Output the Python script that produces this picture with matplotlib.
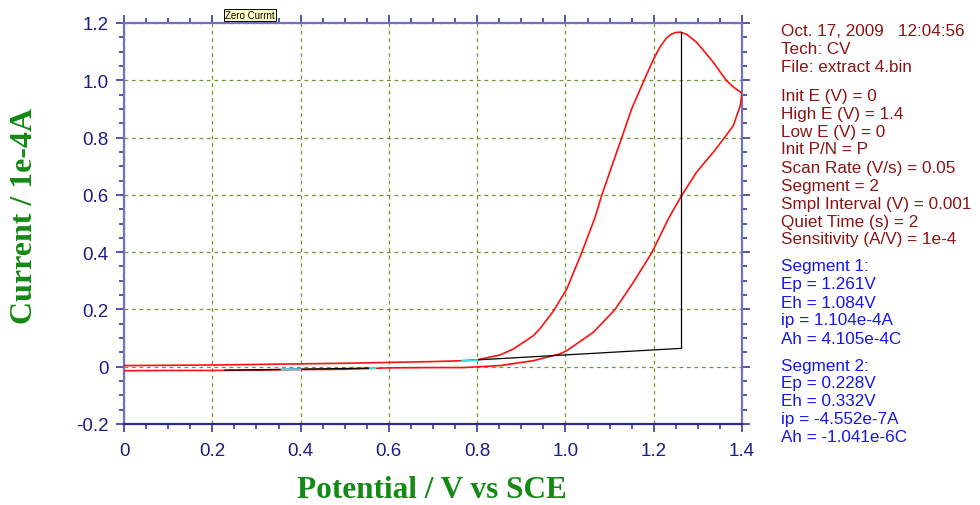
import matplotlib
matplotlib.use("Agg")
import matplotlib.pyplot as plt
from matplotlib.ticker import MultipleLocator

# Segment 1: anodic sweep 0 -> 1.4 V (current in 1e-4 A)
fwd_e = [0.00, 0.10, 0.20, 0.30, 0.40, 0.50, 0.60, 0.70, 0.77, 0.80, 0.852, 0.882,
         0.927, 0.942, 0.973, 1.003, 1.037, 1.067, 1.082, 1.105, 1.127, 1.150, 1.177,
         1.200, 1.215, 1.229, 1.240, 1.250, 1.261, 1.275, 1.297, 1.315, 1.335, 1.350,
         1.365, 1.380, 1.390, 1.400]
fwd_i = [0.004, 0.005, 0.006, 0.008, 0.010, 0.012, 0.015, 0.018, 0.021, 0.024, 0.041, 0.062,
         0.108, 0.132, 0.195, 0.271, 0.399, 0.521, 0.597, 0.700, 0.797, 0.900, 0.996,
         1.075, 1.118, 1.148, 1.161, 1.167, 1.168, 1.160, 1.133, 1.100, 1.063, 1.030,
         0.999, 0.977, 0.966, 0.955]

# Segment 2: reverse sweep 1.4 -> 0 V
rev_e = [1.400, 1.396, 1.380, 1.358, 1.335, 1.297, 1.263, 1.233, 1.196, 1.154, 1.112,
         1.063, 1.003, 0.988, 0.927, 0.852, 0.769, 0.70, 0.60, 0.56, 0.50, 0.40, 0.30,
         0.20, 0.10, 0.00]
rev_i = [0.955, 0.911, 0.841, 0.795, 0.749, 0.679, 0.597, 0.516, 0.399, 0.295, 0.199,
         0.120, 0.056, 0.045, 0.021, 0.004, -0.003, -0.003, -0.004, -0.006, -0.009, -0.010,
         -0.012, -0.013, -0.013, -0.014]

# peak baselines and peak markers
seg1_base_e = [0.78, 1.261]
seg1_base_i = [0.022, 0.064]
seg1_peak_e = [1.261, 1.261]
seg1_peak_i = [0.064, 1.168]
seg2_base_e = [0.229, 0.557]
seg2_base_i = [-0.012, -0.005]
# half-peak markers
eh_marks = [([0.766, 0.800], [0.021, 0.023]),
            ([0.357, 0.400], [-0.010, -0.009]),
            ([0.557, 0.569], [-0.006, -0.006])]

x_ticks = [0, 0.2, 0.4, 0.6, 0.8, 1.0, 1.2, 1.4]
x_labels = ["0", "0.2", "0.4", "0.6", "0.8", "1.0", "1.2", "1.4"]
y_ticks = [-0.2, 0, 0.2, 0.4, 0.6, 0.8, 1.0, 1.2]
y_labels = ["-0.2", "0", "0.2", "0.4", "0.6", "0.8", "1.0", "1.2"]

params = [
    "Oct. 17, 2009   12:04:56",
    "Tech: CV",
    "File: extract 4.bin",
    None,
    "Init E (V) = 0",
    "High E (V) = 1.4",
    "Low E (V) = 0",
    "Init P/N = P",
    "Scan Rate (V/s) = 0.05",
    "Segment = 2",
    "Smpl Interval (V) = 0.001",
    "Quiet Time (s) = 2",
    "Sensitivity (A/V) = 1e-4",
]
results = [
    "Segment 1:",
    "Ep = 1.261V",
    "Eh = 1.084V",
    "ip = 1.104e-4A",
    "Ah = 4.105e-4C",
    None,
    "Segment 2:",
    "Ep = 0.228V",
    "Eh = 0.332V",
    "ip = -4.552e-7A",
    "Ah = -1.041e-6C",
]

W, H = 980, 506
fig = plt.figure(figsize=(W / 100, H / 100), dpi=100)
ax = fig.add_axes([124 / W, 1 - 425 / H, 618 / W, 401 / H])

navy = "#1c1c84"
green = "#138a13"
grid_c = "#6b9a2a"

ax.plot(fwd_e, fwd_i, color="#ff1010", lw=1.2, zorder=3)
ax.plot(rev_e, rev_i, color="#ff1010", lw=1.2, zorder=3)
ax.plot(seg1_base_e, seg1_base_i, color="black", lw=0.9, zorder=4)
ax.plot(seg1_peak_e, seg1_peak_i, color="black", lw=0.9, zorder=4)
ax.plot(seg2_base_e, seg2_base_i, color="black", lw=0.9, zorder=4)
for xs, ys in eh_marks:
    ax.plot(xs, ys, color="#33e0e8", lw=1.4, zorder=5)

ax.set_xlim(0, 1.4)
ax.set_ylim(-0.2, 1.2)
ax.set_xticks(x_ticks)
ax.set_xticklabels(x_labels)
ax.set_yticks(y_ticks)
ax.set_yticklabels(y_labels)
ax.xaxis.set_minor_locator(MultipleLocator(0.05))
ax.yaxis.set_minor_locator(MultipleLocator(0.05))

ax.grid(True, which="major", color=grid_c, linestyle=(0, (3, 3)), linewidth=0.9)

for side, col in [("left", "#7272c4"), ("right", "#7272c4"), ("top", "#7272c4"), ("bottom", "#2a2a8a")]:
    ax.spines[side].set_color(col)
    ax.spines[side].set_linewidth(1.6)
ax.tick_params(which="both", direction="out", top=True, right=True, colors="#3a3a9a",
               labelcolor=navy, labelsize=13.5, width=1.2)
ax.tick_params(which="major", length=6, pad=5)
ax.tick_params(which="minor", length=3.5)
ax.tick_params(axis="x", pad=7)
for lbl in ax.get_xticklabels() + ax.get_yticklabels():
    lbl.set_family(["Liberation Sans", "DejaVu Sans"])

fig.text(432 / W, 1 - 491 / H, "Potential / V vs SCE", family="Liberation Serif", weight="bold",
         fontsize=22.5, color=green, ha="center", va="center")
fig.text(25 / W, 1 - 216 / H, "Current / 1e-4A", family="Liberation Serif", weight="bold",
         fontsize=23, color=green, rotation=90, ha="center", va="center")

fig.text(225 / W, 1 - 16 / H, "Zero Currnt", fontsize=7, family="Liberation Sans",
         ha="left", va="center",
         bbox=dict(boxstyle="square,pad=0.15", facecolor="#ffffc8", edgecolor="black", lw=0.7))

y = 32
for line in params:
    if line is None:
        y += 10
        continue
    fig.text(781 / W, 1 - y / H, line, fontsize=12.3, family="Liberation Sans",
             color="#8a1414", ha="left", va="center")
    y += 18
y = 267
for line in results:
    if line is None:
        y += 9
        continue
    fig.text(781 / W, 1 - y / H, line, fontsize=12.3, family="Liberation Sans",
             color="#1616e8", ha="left", va="center")
    y += 18

fig.savefig("out.png", dpi=100)
